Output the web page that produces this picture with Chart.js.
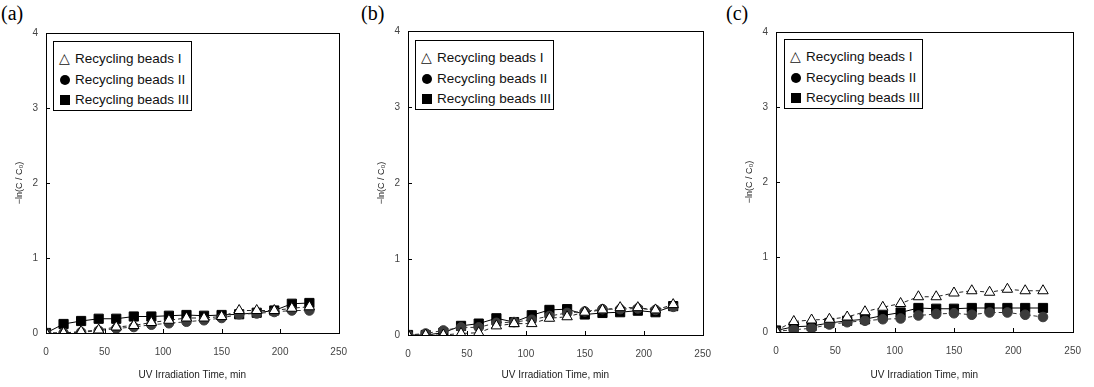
<!DOCTYPE html>
<html>
<head>
<meta charset="utf-8">
<script src="https://cdn.jsdelivr.net/npm/chart.js@4.4.1/dist/chart.umd.min.js"></script>
<style>
  body { margin:0; background:#fff; width:1094px; height:387px; position:relative; overflow:hidden; font-family:Arial, "Liberation Sans", sans-serif; }
  canvas { position:absolute; top:0; }
  .tag { position:absolute; top:2px; font-family:"Liberation Serif", "Times New Roman", serif; font-size:20px; color:#000; }
  .leg { position:absolute; border:1px solid #000; background:#fff; width:137px; height:68px; font-size:13.5px; color:#111; }
  .leg div { position:absolute; left:0; white-space:nowrap; height:16px; line-height:16px; }
  .leg span.m { display:inline-block; width:21px; position:relative; height:16px; vertical-align:top; }
  .tri { position:absolute; left:5px; top:-1px; font-size:14px; line-height:16px; }
  .dot { position:absolute; left:6px; top:3px; width:10px; height:10px; border-radius:50%; background:#000; }
  .sq { position:absolute; left:6px; top:3px; width:10px; height:10px; background:#000; }
</style>
</head>
<body>
<div class="tag" style="left:1px">(a)</div>
<div class="tag" style="left:361px">(b)</div>
<div class="tag" style="left:726px">(c)</div>

<canvas id="ca" width="360" height="387" style="left:0;width:360px;height:387px"></canvas>
<canvas id="cb" width="362" height="387" style="left:362px;width:362px;height:387px"></canvas>
<canvas id="cc" width="364" height="387" style="left:730px;width:364px;height:387px"></canvas>

<div class="leg" style="left:53px;top:41px">
  <div style="top:9px"><span class="m"><span class="tri">△</span></span>Recycling beads I</div>
  <div style="top:30px"><span class="m"><span class="dot"></span></span>Recycling beads II</div>
  <div style="top:50px"><span class="m"><span class="sq"></span></span>Recycling beads III</div>
</div>
<div class="leg" style="left:415px;top:40px">
  <div style="top:9px"><span class="m"><span class="tri">△</span></span>Recycling beads I</div>
  <div style="top:30px"><span class="m"><span class="dot"></span></span>Recycling beads II</div>
  <div style="top:50px"><span class="m"><span class="sq"></span></span>Recycling beads III</div>
</div>
<div class="leg" style="left:784px;top:39px">
  <div style="top:9px"><span class="m"><span class="tri">△</span></span>Recycling beads I</div>
  <div style="top:30px"><span class="m"><span class="dot"></span></span>Recycling beads II</div>
  <div style="top:50px"><span class="m"><span class="sq"></span></span>Recycling beads III</div>
</div>

<script>
// irradiation time, min
var times = [0, 15, 30, 45, 60, 75, 90, 105, 120, 135, 150, 165, 180, 195, 210, 225];

// panel (a)
var a1 = [0, 0, 0.02, 0.04, 0.08, 0.10, 0.14, 0.17, 0.20, 0.20, 0.22, 0.30, 0.30, 0.30, 0.33, 0.35];
var a2 = [0, 0, 0.01, 0.03, 0.06, 0.08, 0.11, 0.13, 0.15, 0.17, 0.20, 0.25, 0.26, 0.28, 0.30, 0.30];
var a3 = [0, 0.12, 0.16, 0.19, 0.19, 0.22, 0.22, 0.23, 0.24, 0.23, 0.24, 0.25, 0.27, 0.30, 0.39, 0.40];

// panel (b)
var b1 = [0, 0, 0, 0.02, 0.03, 0.12, 0.15, 0.15, 0.22, 0.24, 0.30, 0.33, 0.36, 0.36, 0.33, 0.40];
var b2 = [0, 0.02, 0.06, 0.10, 0.10, 0.16, 0.17, 0.20, 0.25, 0.29, 0.31, 0.34, 0.34, 0.35, 0.33, 0.37];
var b3 = [0, 0, 0.03, 0.12, 0.15, 0.22, 0.17, 0.26, 0.33, 0.34, 0.27, 0.29, 0.30, 0.32, 0.30, 0.38];

// panel (c)
var c1 = [0.02, 0.14, 0.16, 0.17, 0.20, 0.27, 0.33, 0.38, 0.47, 0.47, 0.52, 0.55, 0.53, 0.57, 0.55, 0.55];
var c2 = [0.01, 0.03, 0.05, 0.10, 0.13, 0.15, 0.17, 0.18, 0.22, 0.24, 0.25, 0.23, 0.26, 0.26, 0.23, 0.20];
var c3 = [0.02, 0.07, 0.08, 0.12, 0.15, 0.17, 0.22, 0.26, 0.32, 0.31, 0.31, 0.32, 0.32, 0.32, 0.32, 0.32];

var xTicks = [0, 50, 100, 150, 200, 250];
var yTicks = [0, 1, 2, 3, 4];
var names = ["Recycling beads I", "Recycling beads II", "Recycling beads III"];

function pts(vals) {
    return times.map(function(t, i) { return {x: t, y: vals[i]}; });
}

// frame + inward tick marks
var framePlugin = {
    id: 'frame',
    afterDraw: function(chart) {
        var ctx = chart.ctx, ca = chart.chartArea;
        var xs = chart.scales.x, ys = chart.scales.y;
        ctx.save();
        ctx.strokeStyle = '#000';
        ctx.lineWidth = 1;
        ctx.strokeRect(Math.round(ca.left) + 0.5, Math.round(ca.top) + 0.5,
            Math.round(ca.right - ca.left), Math.round(ca.bottom - ca.top));
        ctx.beginPath();
        xTicks.forEach(function(v) {
            var px = Math.round(xs.getPixelForValue(v)) + 0.5;
            ctx.moveTo(px, ca.bottom); ctx.lineTo(px, ca.bottom - 4);
        });
        yTicks.forEach(function(v) {
            var py = Math.round(ys.getPixelForValue(v)) + 0.5;
            ctx.moveTo(ca.left, py); ctx.lineTo(ca.left + 4, py);
        });
        ctx.stroke();
        ctx.restore();
    }
};

function makePanel(id, s1, s2, s3, pad, yTitle) {
    var ds = [
        {label: names[0], data: pts(s1), borderColor: '#222', borderWidth: 1, borderDash: [4, 3],
         pointStyle: 'triangle', pointRadius: 6, pointBackgroundColor: '#fff', pointBorderColor: '#000', pointBorderWidth: 1},
        {label: names[1], data: pts(s2), borderColor: '#333', borderWidth: 1, borderDash: [4, 3],
         pointStyle: 'circle', pointRadius: 4.8, pointBackgroundColor: '#3c3c3c', pointBorderColor: '#3c3c3c', pointBorderWidth: 1},
        {label: names[2], data: pts(s3), borderColor: '#000', borderWidth: 1,
         pointStyle: 'rect', pointRadius: 6.5, pointBackgroundColor: '#000', pointBorderColor: '#000', pointBorderWidth: 1}
    ];
    new Chart(document.getElementById(id), {
        type: 'line',
        data: {datasets: ds},
        options: {
            responsive: false,
            animation: false,
            layout: {padding: {left: 0, right: pad.right, top: pad.top, bottom: 0}},
            plugins: {legend: {display: false}, tooltip: {enabled: false}},
            scales: {
                x: {
                    type: 'linear', min: 0, max: 250,
                    afterBuildTicks: function(s) { s.ticks = xTicks.map(function(v) { return {value: v}; }); },
                    afterFit: function(s) { s.height = pad.xh; },
                    grid: {display: false, drawTicks: false},
                    border: {display: false},
                    ticks: {padding: 13, color: '#444', font: {family: 'Arial', size: 10}},
                    title: {display: true, text: 'UV Irradiation Time, min', color: '#222',
                            font: {family: 'Arial', size: 10}, padding: {top: 8, bottom: 6}}
                },
                y: {
                    type: 'linear', min: 0, max: 4,
                    afterBuildTicks: function(s) { s.ticks = yTicks.map(function(v) { return {value: v}; }); },
                    afterFit: function(s) { s.width = 46; },
                    grid: {display: false, drawTicks: false},
                    border: {display: false},
                    ticks: {padding: 8, color: '#444', font: {family: 'Arial', size: 10}},
                    title: {display: true, text: yTitle, color: '#222',
                            font: {family: 'Arial', size: 9}, padding: {top: 14, bottom: 0}}
                }
            }
        },
        plugins: [framePlugin]
    });
}

makePanel('ca', a1, a2, a3, {right: 14, top: 33, xh: 54}, '\u2212ln(C / C\u2080)');
makePanel('cb', b1, b2, b3, {right: 12, top: 31, xh: 52}, '\u2212ln(C / C\u2080)');
makePanel('cc', c1, c2, c3, {right: 18, top: 32, xh: 55}, '\u2212ln(C / C\u2080)');
</script>
</body>
</html>
